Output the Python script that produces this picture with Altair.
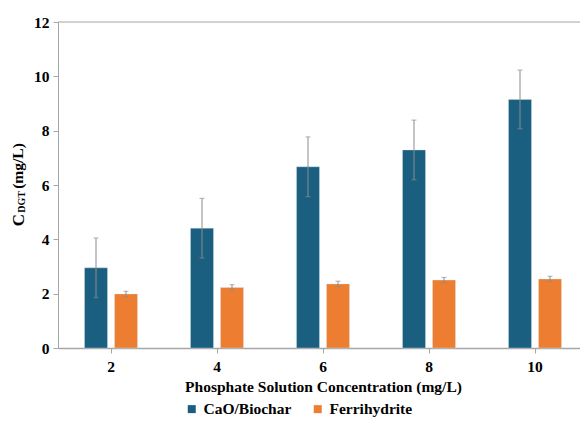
import altair as alt
import pandas as pd

concentrations = ["2", "4", "6", "8", "10"]
series_names = ["CaO/Biochar", "Ferrihydrite"]
cao_values = [2.95, 4.41, 6.67, 7.29, 9.15]
cao_errors = [1.1, 1.1, 1.1, 1.1, 1.08]
ferri_values = [1.99, 2.23, 2.36, 2.50, 2.54]
ferri_errors = [0.1, 0.1, 0.1, 0.1, 0.1]
colors = ["#1a5f80", "#ed7d31"]

rows = []
for i, c in enumerate(concentrations):
    rows.append({"conc": c, "series": series_names[0], "value": cao_values[i],
                 "lo": cao_values[i] - cao_errors[i], "hi": cao_values[i] + cao_errors[i]})
    rows.append({"conc": c, "series": series_names[1], "value": ferri_values[i],
                 "lo": ferri_values[i] - ferri_errors[i], "hi": ferri_values[i] + ferri_errors[i]})
df = pd.DataFrame(rows)

FONT = "Liberation Serif"

x_enc = alt.X("conc:N", sort=concentrations,
              scale=alt.Scale(paddingInner=0.5, paddingOuter=0.25),
              axis=alt.Axis(title="Phosphate Solution Concentration (mg/L)", labelAngle=0,
                            labelFontSize=15.5, labelFontWeight="bold", labelFont=FONT,
                            titleFontSize=15.5, titleFontWeight="bold", titleFont=FONT,
                            titleColor="#000", labelColor="#000",
                            domainColor="#a6a6a6", tickColor="#a6a6a6", tickSize=5,
                            domainWidth=1.5, labelPadding=6, titlePadding=5))
xoff = alt.XOffset("series:N", sort=series_names,
                   scale=alt.Scale(paddingInner=0.233, paddingOuter=0))
y_scale = alt.Scale(domain=[0, 12], nice=False)

base = alt.Chart(df)

bars = base.mark_bar(stroke="#dbe8f0", strokeWidth=0.6, strokeOpacity=0.6).encode(
    x=x_enc,
    xOffset=xoff,
    y=alt.Y("value:Q", scale=y_scale,
            axis=alt.Axis(values=[0, 2, 4, 6, 8, 10, 12], title=None, grid=False,
                          labelFontSize=15.5, labelFontWeight="bold", labelFont=FONT,
                          labelColor="#000", domainColor="#a6a6a6", tickColor="#a6a6a6",
                          tickSize=5, labelPadding=4)),
    color=alt.Color("series:N", sort=series_names,
                    scale=alt.Scale(domain=series_names, range=colors),
                    legend=alt.Legend(title=None, orient="none", direction="horizontal",
                                      legendX=126, legendY=379, symbolType="square",
                                      symbolSize=64, symbolStrokeWidth=0,
                                      labelFont=FONT, labelFontSize=15.5,
                                      labelFontWeight="bold", labelColor="#000",
                                      columnPadding=18, labelOffset=4)),
)

err = base.mark_rule(color="#8c8c8c", strokeWidth=1).encode(
    x=alt.X("conc:N", sort=concentrations), xOffset=xoff,
    y=alt.Y("lo:Q", scale=y_scale), y2="hi:Q")
cap_hi = base.mark_tick(color="#8c8c8c", size=5, thickness=1).encode(
    x=alt.X("conc:N", sort=concentrations), xOffset=xoff,
    y=alt.Y("hi:Q", scale=y_scale))
cap_lo = base.mark_tick(color="#8c8c8c", size=5, thickness=1).encode(
    x=alt.X("conc:N", sort=concentrations), xOffset=xoff,
    y=alt.Y("lo:Q", scale=y_scale))

top_line = alt.Chart(pd.DataFrame({"v": [12]})).mark_rule(color="#a6a6a6", strokeWidth=1.2).encode(
    y=alt.Y("v:Q", scale=y_scale))

title_parts = pd.DataFrame({
    "t": ["C", "DGT", "(mg/L)"],
    "px": [-39.5, -36, -40],
    "py": [198, 180, 144],
    "fs": [17, 10, 15.5],
})
ytitle = alt.Chart(title_parts).mark_text(angle=270, align="center", baseline="middle",
                                          font=FONT, fontWeight="bold", color="#000").encode(
    x=alt.X("px:Q", scale=None),
    y=alt.Y("py:Q", scale=None),
    text="t:N",
    size=alt.Size("fs:Q", scale=None, legend=None),
)

chart = alt.layer(top_line, bars, err, cap_hi, cap_lo, ytitle).properties(
    width=530, height=326,
    autosize=alt.AutoSizeParams(type="none"),
    padding={"left": 50, "top": 14, "right": -8, "bottom": 70},
    background="white",
).configure_view(stroke=None)

chart.save("out.html", embed_options={"renderer": "svg", "actions": False})
